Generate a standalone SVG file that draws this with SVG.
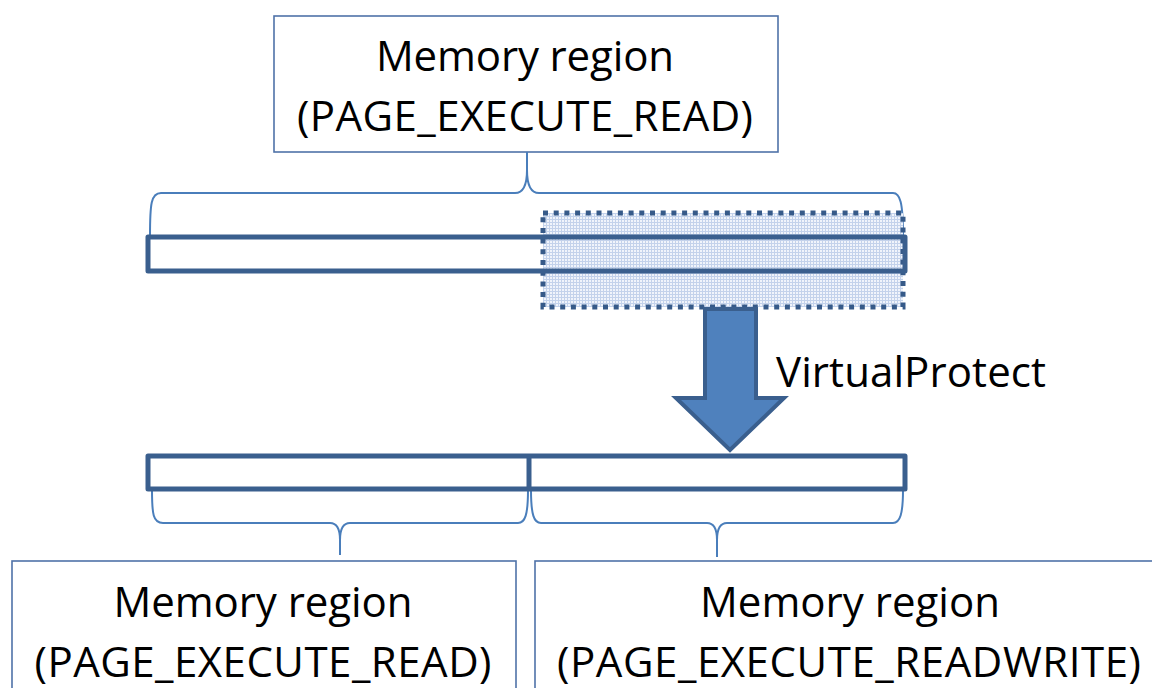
<svg xmlns="http://www.w3.org/2000/svg" width="1152" height="688" viewBox="0 0 1152 688">
  <style>
    .box { fill: #ffffff; stroke: #4f72a8; stroke-width: 1.6; }
    .label { font-family: "Open Sans", "Noto Sans", "Liberation Sans", sans-serif; font-size: 42px; fill: #000000; }
    .mid { text-anchor: middle; }
    .bar { fill: none; stroke: #3a5f8e; stroke-width: 5; stroke-linejoin: round; }
    .brace { fill: none; stroke: #4a7ebb; stroke-width: 2; }
    .changed { fill: url(#hatch); stroke: #365a89; stroke-width: 5; stroke-dasharray: 5 5.7; }
    .arrow { fill: #4f81bd; stroke: #3a5f8e; stroke-width: 4; stroke-linejoin: miter; }
  </style>
  <defs>
    <!-- fine light-blue grid used for the re-protected span -->
    <pattern id="hatch" x="0" y="0" width="3" height="3" patternUnits="userSpaceOnUse">
      <rect width="3" height="3" fill="#c3d2eb"/>
      <rect x="1" y="1" width="2" height="2" fill="#f0f4fb"/>
    </pattern>
  </defs>

  <!-- original region -->
  <g id="region-top">
    <rect class="box" x="274" y="16" width="504" height="136"/>
    <text class="label mid" x="525" y="71" textLength="298">Memory region</text>
    <text class="label mid" x="525" y="131" textLength="456">(PAGE_EXECUTE_READ)</text>
  </g>

  <!-- braces grouping the address ranges -->
  <g id="connectors">
    <path class="brace" d="M150,236 C150,204 151,193 161,193 H515 C522,193 527,188 527,170 V152 M527,170 C527,188 532,193 539,193 H893 C900,193 903,202 903,236"/>
    <path class="brace" d="M152,490 C152,514 153,523 163,523 H330 C336,523 340,528 340,540 V555 M340,540 C340,528 344,523 350,523 H518 C525,523 528,515 528,490"/>
    <path class="brace" d="M531,490 C531,515 534,523 541,523 H707 C713,523 717,528 717,540 V557 M717,540 C717,528 721,523 727,523 H893 C900,523 903,514 903,490"/>
  </g>

  <!-- memory before the call -->
  <g id="memory-before">
    <rect class="changed" x="543" y="213" width="360" height="94"/>
    <rect class="bar" x="148" y="237" width="757" height="34"/>
  </g>

  <g id="virtualprotect">
    <polygon class="arrow" points="705,309 756,309 756,398 784,398 730,450 676,398 705,398"/>
    <text class="label" x="776" y="387" textLength="270">VirtualProtect</text>
  </g>

  <!-- memory after the call -->
  <g id="memory-after">
    <rect class="bar" x="148" y="456" width="757" height="33"/>
    <line class="bar" x1="529" y1="456" x2="529" y2="489"/>
  </g>

  <g id="region-left">
    <rect class="box" x="12" y="561" width="504" height="140"/>
    <text class="label mid" x="263" y="617" textLength="299">Memory region</text>
    <text class="label mid" x="263" y="677" textLength="457">(PAGE_EXECUTE_READ)</text>
  </g>

  <g id="region-right">
    <rect class="box" x="535" y="561" width="630" height="140"/>
    <text class="label mid" x="850" y="617" textLength="300">Memory region</text>
    <text class="label mid" x="849" y="677" textLength="584">(PAGE_EXECUTE_READWRITE)</text>
  </g>
</svg>
